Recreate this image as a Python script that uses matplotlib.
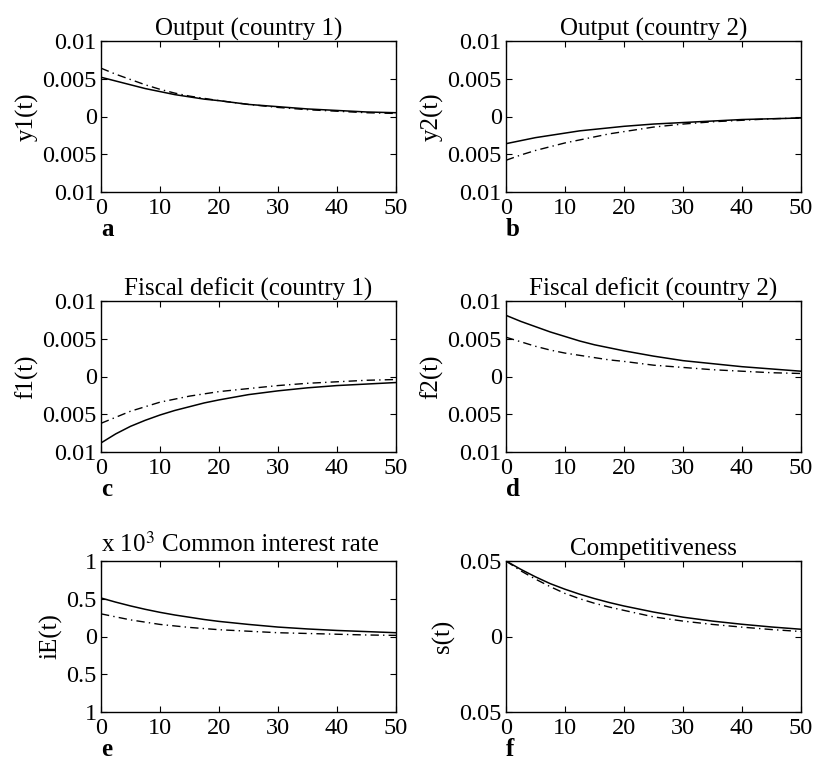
import matplotlib
matplotlib.use('Agg')
import matplotlib.pyplot as plt

plt.rcParams['font.family'] = ['Liberation Serif', 'DejaVu Serif']
plt.rcParams['mathtext.fontset'] = 'stix'
plt.rcParams['font.size'] = 18

# time grid
t = [0, 2.5, 5, 7.5, 10, 12.5, 15, 17.5, 20, 25, 30, 35, 40, 45, 50]

# output, country 1
y1_solid = [0.0052, 0.0047, 0.0042, 0.0037, 0.0033, 0.0029, 0.0026, 0.0023, 0.0021, 0.0016, 0.0013, 0.0010, 0.0008, 0.0006, 0.0005]
y1_dash = [0.0064, 0.0056, 0.0049, 0.0042, 0.0036, 0.0031, 0.0027, 0.0024, 0.0021, 0.0016, 0.0012, 0.0009, 0.0007, 0.0005, 0.0004]
# output, country 2
y2_solid = [-0.0036, -0.0032, -0.0028, -0.0025, -0.0022, -0.0019, -0.0017, -0.0015, -0.0013, -0.0010, -0.0008, -0.0006, -0.0004, -0.0003, -0.0002]
y2_dash = [-0.0058, -0.0051, -0.0045, -0.0040, -0.0035, -0.0031, -0.0027, -0.0023, -0.0020, -0.0014, -0.0010, -0.0007, -0.0005, -0.0003, -0.0002]
# fiscal deficit, country 1
f1_solid = [-0.0088, -0.0076, -0.0066, -0.0058, -0.0051, -0.0045, -0.0040, -0.0035, -0.0031, -0.0024, -0.0019, -0.0015, -0.0012, -0.0010, -0.0008]
f1_dash = [-0.0062, -0.0054, -0.0046, -0.0040, -0.0034, -0.0030, -0.0026, -0.0023, -0.0020, -0.0016, -0.0012, -0.0009, -0.0007, -0.0005, -0.0004]
# fiscal deficit, country 2
f2_solid = [0.0081, 0.0073, 0.0066, 0.0059, 0.0053, 0.0047, 0.0042, 0.0038, 0.0034, 0.0027, 0.0021, 0.0017, 0.0013, 0.0010, 0.0007]
f2_dash = [0.0052, 0.0046, 0.0040, 0.0035, 0.0031, 0.0028, 0.0025, 0.0022, 0.0020, 0.0015, 0.0012, 0.0009, 0.0007, 0.0005, 0.0004]
# common interest rate (x 10^-3)
iE_solid = [0.51, 0.455, 0.405, 0.36, 0.32, 0.285, 0.255, 0.225, 0.20, 0.16, 0.125, 0.10, 0.08, 0.065, 0.05]
iE_dash = [0.30, 0.26, 0.22, 0.19, 0.16, 0.14, 0.12, 0.105, 0.09, 0.07, 0.05, 0.04, 0.03, 0.02, 0.015]
# competitiveness
s_solid = [0.05, 0.0445, 0.0395, 0.035, 0.0313, 0.028, 0.0251, 0.0225, 0.0202, 0.0162, 0.0128, 0.0102, 0.0081, 0.0063, 0.0048]
s_dash = [0.05, 0.0435, 0.038, 0.033, 0.0285, 0.025, 0.022, 0.0195, 0.0173, 0.013, 0.0102, 0.008, 0.0062, 0.0046, 0.0033]

xticks = [0, 10, 20, 30, 40, 50]
yt_small = [-0.01, -0.005, 0, 0.005, 0.01]
yt_small_lab = ['0.01', '0.005', '0', '0.005', '0.01']
yt_unit = [-1, -0.5, 0, 0.5, 1]
yt_unit_lab = ['1', '0.5', '0', '0.5', '1']
yt_s = [-0.05, 0, 0.05]
yt_s_lab = ['0.05', '0', '0.05']

panels = [
    ('Output (country 1)', 'y1(t)', 'a', y1_solid, y1_dash, yt_small, yt_small_lab),
    ('Output (country 2)', 'y2(t)', 'b', y2_solid, y2_dash, yt_small, yt_small_lab),
    ('Fiscal deficit (country 1)', 'f1(t)', 'c', f1_solid, f1_dash, yt_small, yt_small_lab),
    ('Fiscal deficit (country 2)', 'f2(t)', 'd', f2_solid, f2_dash, yt_small, yt_small_lab),
    ('Common interest rate', 'iE(t)', 'e', iE_solid, iE_dash, yt_unit, yt_unit_lab),
    ('Competitiveness', 's(t)', 'f', s_solid, s_dash, yt_s, yt_s_lab),
]

W, H = 814, 762
fig = plt.figure(figsize=(W / 100, H / 100), dpi=100)

lefts = [101, 506]
tops = [41, 301, 561]
aw, ah = 295, 151

for i, (title, ylab, letter, ys, yd, yt, ytl) in enumerate(panels):
    row, col = i // 2, i % 2
    ax = fig.add_axes([lefts[col] / W, 1 - (tops[row] + ah) / H, aw / W, ah / H])
    ax.plot(t, ys, color='black', lw=1.1)
    ax.plot(t, yd, color='black', lw=1.0, dashes=(6, 3, 1, 3))
    ax.set_xlim(0, 50)
    ax.set_ylim(yt[0], yt[-1])
    ax.set_xticks(xticks)
    ax.set_yticks(yt)
    ax.set_yticklabels(ytl)
    ax.tick_params(direction='in', top=True, right=True, length=4, width=0.8,
                   labelsize=17.5)
    ax.tick_params(axis='x', pad=4)
    ax.tick_params(axis='y', pad=3)
    for sp in ax.spines.values():
        sp.set_linewidth(1.0)
    ax.set_ylabel(ylab, fontsize=18, labelpad=3)
    if letter == 'e':
        ax.text(0.576, 1.03, title, transform=ax.transAxes, ha='center',
                va='bottom', fontsize=18)
        ax.text(0.0, 1.03, 'x 10$^{3}$', transform=ax.transAxes, ha='left',
                va='bottom', fontsize=18)
    else:
        ax.set_title(title, fontsize=18, pad=4)
    ax.text(0.0, -0.25, letter, transform=ax.transAxes, ha='left', va='center',
            fontsize=18, fontweight='bold')

fig.savefig('out.png', dpi=100)
